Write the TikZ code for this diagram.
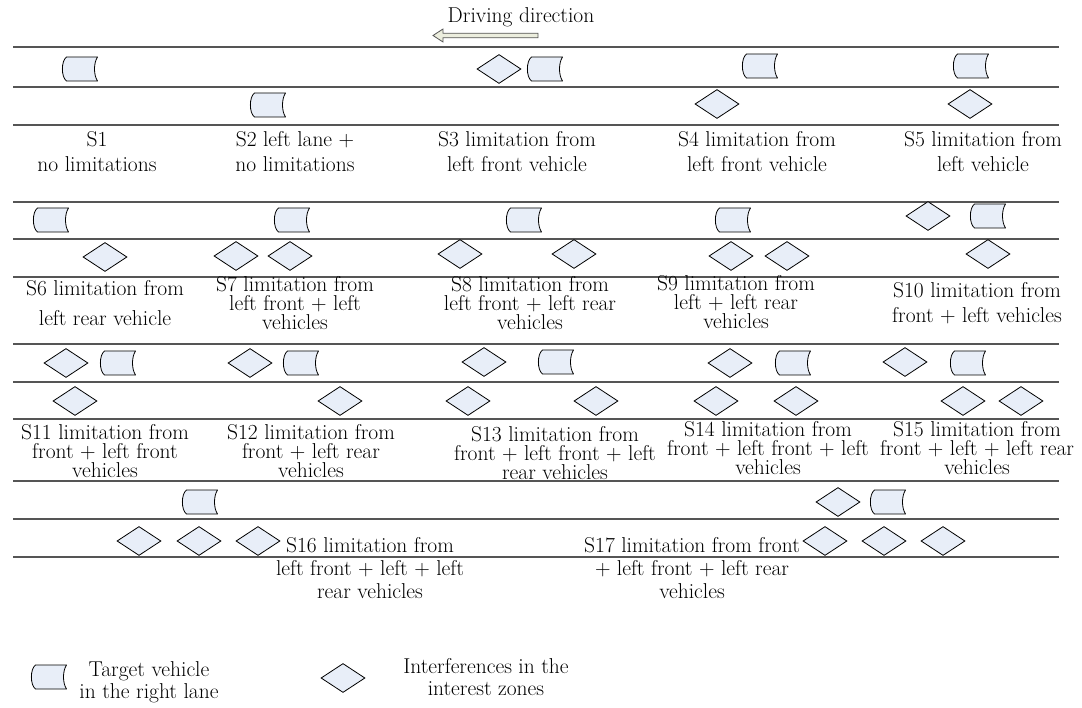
\documentclass[tikz,border=0pt]{standalone}
\usetikzlibrary{shapes.geometric}
\definecolor{boxfill}{RGB}{232,238,248}
\definecolor{arrowfill}{RGB}{236,238,222}
\definecolor{roadgray}{RGB}{85,85,85}
\begin{document}
\begin{tikzpicture}[x=1pt,y=-1pt,
  road/.style={draw=roadgray, line width=1.4pt},
  intf/.style={diamond, draw=black, fill=boxfill, line width=0.8pt, minimum width=44pt, minimum height=29pt, inner sep=0pt},
  % anchor=base is the baseline of the LAST line of a multi-line label
  lab/.style={anchor=base, align=center, inner sep=0pt, font=\fontsize{21.5}{#1}\selectfont},
  lab/.default=19,
  car/.pic={\draw[black, line width=0.8pt, fill=boxfill, line join=round]
     (-13.5,-12) -- (17.5,-12) .. controls (13.5,-6) and (13.5,6) .. (17.5,12)
     -- (-13.5,12) .. controls (-19,8) and (-19,-8) .. (-13.5,-12) -- cycle;}
]
\useasboundingbox (0,0) rectangle (1082,708);
% title and arrow
\node[lab=20] (title) at (521,23) {Driving direction};
\draw[draw=roadgray, fill=arrowfill, line width=0.8pt]
  (433,35.5) -- (443,29) -- (443,33.2) -- (538,33.2) -- (538,37.8) -- (443,37.8) -- (443,42) -- cycle;
% road lines
\foreach \y in {47,87,125,202,239,277,344,382,419,481,519,557}
  \draw[road] (13,\y) -- (1059,\y);
% row 1
\pic (c1) at (80,69) {car};
\pic (c2) at (268,105) {car};
\node[intf] (d3a) at (499,69) {};
\pic (c3) at (545,69) {car};
\pic (c4) at (760,66) {car};
\node[intf] (d4a) at (717,104) {};
\pic (c5) at (971,66) {car};
\node[intf] (d5a) at (970,104) {};
\node[lab=25] (t1) at (97,172) {S1\\no limitations};
\node[lab=25] (t2) at (295,172) {S2 left lane +\\no limitations};
\node[lab=25] (t3) at (517,172) {S3 limitation from\\left front vehicle};
\node[lab=25] (t4) at (757,172) {S4 limitation from\\left front vehicle};
\node[lab=25] (t5) at (983,172) {S5 limitation from\\left vehicle};
% row 2
\pic (c6) at (51,220) {car};
\node[intf] (d6a) at (105,257) {};
\pic (c7) at (292,220) {car};
\node[intf] (d7a) at (236,256) {};
\node[intf] (d7b) at (290,256) {};
\pic (c8) at (524,220) {car};
\node[intf] (d8a) at (460,254) {};
\node[intf] (d8b) at (574,254) {};
\pic (c9) at (733,220) {car};
\node[intf] (d9a) at (731,256) {};
\node[intf] (d9b) at (787,256) {};
\node[intf] (d10a) at (928,216) {};
\pic (c10) at (988,216) {car};
\node[intf] (d10b) at (988,254) {};
\node[lab=30] (t6) at (105,326) {S6 limitation from\\left rear vehicle};
\node[lab=19] (t7) at (295,330) {S7 limitation from\\left front + left\\vehicles};
\node[lab=19] (t8) at (530,330) {S8 limitation from\\left front + left rear\\vehicles};
\node[lab=19] (t9) at (736,329) {S9 limitation from\\left + left rear\\vehicles};
\node[lab=25] (t10) at (977,323) {S10 limitation from\\front + left vehicles};
% row 3
\node[intf] (d11a) at (66,363) {};
\pic (c11) at (118,363) {car};
\node[intf] (d11b) at (75,401) {};
\node[intf] (d12a) at (250,363) {};
\pic (c12) at (301,363) {car};
\node[intf] (d12b) at (340,401) {};
\node[intf] (d13a) at (484,362) {};
\pic (c13) at (556,362) {car};
\node[intf] (d13b) at (468,401) {};
\node[intf] (d13c) at (596,401) {};
\node[intf] (d14a) at (730,363) {};
\pic (c14) at (793,363) {car};
\node[intf] (d14b) at (716,401) {};
\node[intf] (d14c) at (796,401) {};
\node[intf] (d15a) at (905,362) {};
\pic (c15) at (968,363) {car};
\node[intf] (d15b) at (963,401) {};
\node[intf] (d15c) at (1021,401) {};
\node[lab=19] (t11) at (105,477) {S11 limitation from\\front + left front\\vehicles};
\node[lab=19] (t12) at (311,477) {S12 limitation from\\front + left rear\\vehicles};
\node[lab=19] (t13) at (555,479) {S13 limitation from\\front + left front + left\\rear vehicles};
\node[lab=19] (t14) at (768,475) {S14 limitation from\\front + left front + left\\vehicles};
\node[lab=19] (t15) at (977,475) {S15 limitation from\\front + left + left rear\\vehicles};
% row 4
\pic (c16) at (200,502) {car};
\node[intf] (d16a) at (139,541) {};
\node[intf] (d16b) at (199,541) {};
\node[intf] (d16c) at (258,541) {};
\node[intf] (d17a) at (838,502) {};
\pic (c17) at (888,502) {car};
\node[intf] (d17b) at (825,541) {};
\node[intf] (d17c) at (884,541) {};
\node[intf] (d17d) at (943,541) {};
\node[lab=23] (t16) at (370,598) {S16 limitation from\\left front + left + left\\rear vehicles};
\node[lab=23] (t17) at (692,598) {S17 limitation from front\\+ left front + left rear\\vehicles};
% legend
\pic (lc) at (49,677) {car};
\node[lab=22] (lt1) at (149,698) {Target vehicle\\in the right lane};
\node[intf] (ld) at (343,678) {};
\node[lab=22] (lt2) at (486,695) {Interferences in the\\interest zones};
\end{tikzpicture}
\end{document}
